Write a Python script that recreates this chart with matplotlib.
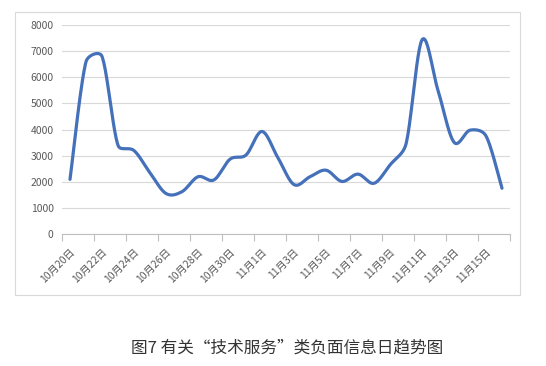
import numpy as np
import matplotlib
matplotlib.use("Agg")
import matplotlib.pyplot as plt
from matplotlib.patches import Rectangle

plt.rcParams['font.family'] = ['Noto Sans CJK SC', 'DejaVu Sans']

# daily counts, 10/20 .. 11/16
dates = ["10月20日", "10月21日", "10月22日", "10月23日", "10月24日", "10月25日", "10月26日",
         "10月27日", "10月28日", "10月29日", "10月30日", "10月31日", "11月1日", "11月2日",
         "11月3日", "11月4日", "11月5日", "11月6日", "11月7日", "11月8日", "11月9日",
         "11月10日", "11月11日", "11月12日", "11月13日", "11月14日", "11月15日", "11月16日"]
counts = [2100, 6600, 6800, 3400, 3200, 2350, 1560, 1630, 2200, 2080, 2870, 3030, 3930, 2920,
          1900, 2200, 2450, 2020, 2300, 1950, 2650, 3450, 7430, 5500, 3520, 3980, 3760, 1760]
yticks = [0, 1000, 2000, 3000, 4000, 5000, 6000, 7000, 8000]
title = "图7 有关“技术服务”类负面信息日趋势图"


def smooth(x, y, sx=16.0, sy=0.02616, k=0.4, n=24):
    # catmull-rom bezier in pixel space, control arms clamped to k * segment length
    # (close to Excel's "smoothed line", little overshoot)
    P = np.column_stack([np.asarray(x, float) * sx, np.asarray(y, float) * sy])
    m = len(P)
    T = np.array([(P[min(i + 1, m - 1)] - P[max(i - 1, 0)]) / 6 for i in range(m)])
    t = np.linspace(0, 1, n, endpoint=False)[:, None]

    def arm(v, L):
        n_ = np.hypot(*v)
        return v if n_ <= k * L else v * (k * L / n_)

    out = []
    for i in range(m - 1):
        L = np.hypot(*(P[i + 1] - P[i]))
        c1 = P[i] + arm(T[i], L)
        c2 = P[i + 1] - arm(T[i + 1], L)
        out.append((1 - t) ** 3 * P[i] + 3 * (1 - t) ** 2 * t * c1
                   + 3 * (1 - t) * t ** 2 * c2 + t ** 3 * P[i + 1])
    out.append(P[-1:])
    out = np.vstack(out)
    return out[:, 0] / sx, out[:, 1] / sy


fig = plt.figure(figsize=(5.46, 3.66), dpi=100)
fig.patches.append(Rectangle((15 / 546, 1 - 295 / 366), 505 / 546, 283 / 366,
                             transform=fig.transFigure, fill=False,
                             edgecolor='#D9D9D9', linewidth=0.8))

ax = fig.add_axes([62 / 546, 1 - 234.3 / 366, 448 / 546, 209.3 / 366])
xi = np.arange(len(counts))
lx, ly = smooth(xi, counts)
ax.plot(lx, ly, color='#4570BA', linewidth=2.3, solid_capstyle='round',
        solid_joinstyle='round', zorder=3)

ax.set_xlim(-0.5, len(counts) - 0.5)
ax.set_ylim(0, 8000)
ax.set_yticks(yticks)
ax.set_yticklabels([str(v) for v in yticks], fontsize=7.5, color='#595959')
ax.grid(axis='y', color='#D9D9D9', linewidth=0.8)
ax.set_axisbelow(True)

ax.set_xticks(xi[::2])
ax.set_xticklabels(dates[::2], fontsize=7.5, color='#595959', rotation=45,
                   ha='right', va='top', rotation_mode='anchor')
ax.set_xticks(np.arange(-0.5, len(counts), 2), minor=True)
ax.tick_params(axis='x', which='major', length=0, pad=9)
ax.tick_params(axis='x', which='minor', length=5, color='#BFBFBF', width=0.8)
ax.tick_params(axis='y', length=0, pad=6)
for s in ['top', 'right', 'left']:
    ax.spines[s].set_visible(False)
ax.spines['bottom'].set_color('#BFBFBF')
ax.spines['bottom'].set_linewidth(0.8)

fig.text(287.5 / 546, 1 - 348 / 366, title, fontsize=12, color='#333333',
         ha='center', va='center')

fig.savefig("out.png", dpi=100)
